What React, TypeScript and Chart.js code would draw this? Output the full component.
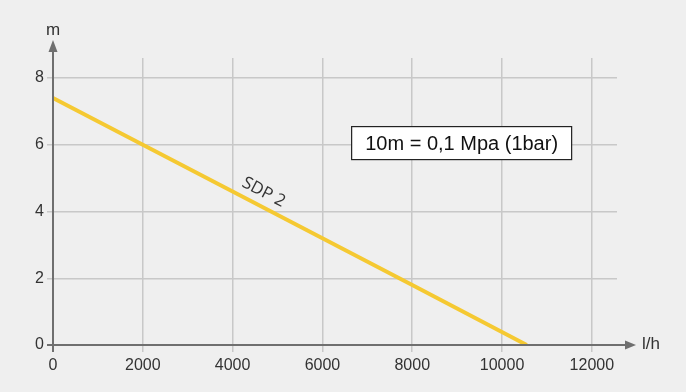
import React, { useEffect, useRef } from "react";
import { Chart, registerables } from "chart.js";

Chart.register(...registerables);

const xTicks = [0, 2000, 4000, 6000, 8000, 10000, 12000];
const yTicks = [0, 2, 4, 6, 8];
const flow = [0, 2000, 4000, 6000, 8000, 10550];
const head = [7.4, 6.0, 4.6, 3.2, 1.8, 0];
const seriesName = "SDP 2";
const noteText = "10m = 0,1 Mpa (1bar)";
const xTitle = "l/h";
const yTitle = "m";

const W = 686;
const H = 392;
const FONT = "'Liberation Sans', Arial, sans-serif";
const LFONT = "'Open Sans', 'Noto Sans', sans-serif";
const AXIS = "#6f6f6f";
const GRID = "#c8c8c8";
const TEXT = "#333333";

const overlay = {
  id: "overlay",
  beforeDraw(chart: any) {
    const { ctx } = chart;
    ctx.save();
    ctx.fillStyle = "#efefef";
    ctx.fillRect(0, 0, chart.width, chart.height);
    ctx.restore();
  },
  afterDraw(chart: any) {
    const { ctx, chartArea } = chart;
    const xs = chart.scales.x;
    const ys = chart.scales.y;
    const x0 = xs.getPixelForValue(0);
    const y0 = ys.getPixelForValue(0);
    ctx.save();
    // axes
    ctx.strokeStyle = AXIS;
    ctx.fillStyle = AXIS;
    ctx.lineWidth = 2;
    ctx.beginPath();
    ctx.moveTo(x0 - 6, y0);
    ctx.lineTo(chartArea.right + 10, y0);
    ctx.moveTo(x0, y0 + 7);
    ctx.lineTo(x0, chartArea.top - 6);
    ctx.stroke();
    // arrows
    const ax = chartArea.right + 8;
    ctx.beginPath();
    ctx.moveTo(ax, y0 - 4.5);
    ctx.lineTo(ax + 11, y0);
    ctx.lineTo(ax, y0 + 4.5);
    ctx.closePath();
    ctx.fill();
    const ay = chartArea.top - 6;
    ctx.beginPath();
    ctx.moveTo(x0 - 4.5, ay);
    ctx.lineTo(x0, ay - 12);
    ctx.lineTo(x0 + 4.5, ay);
    ctx.closePath();
    ctx.fill();
    // axis titles
    ctx.fillStyle = TEXT;
    ctx.font = `17px ${FONT}`;
    ctx.textBaseline = "middle";
    ctx.textAlign = "left";
    ctx.fillText(xTitle, ax + 17, y0 - 1);
    ctx.textAlign = "center";
    ctx.fillText(yTitle, x0, ay - 22);

    // series label along line
    const lx = 4550;
    const slope = (head[head.length - 1] - head[0]) / (flow[flow.length - 1] - flow[0]);
    const ly = head[0] + slope * lx;
    const px = xs.getPixelForValue(lx);
    const py = ys.getPixelForValue(ly);
    const p2x = xs.getPixelForValue(lx + 1000);
    const p2y = ys.getPixelForValue(ly + slope * 1000);
    const ang = Math.atan2(p2y - py, p2x - px);
    ctx.translate(px, py);
    ctx.rotate(ang);
    ctx.font = `17px ${LFONT}`;
    ctx.fillStyle = TEXT;
    ctx.textAlign = "center";
    ctx.textBaseline = "alphabetic";
    ctx.fillText(seriesName, 0, -9);
    ctx.setTransform(1, 0, 0, 1, 0, 0);

    // note box
    const bx = xs.getPixelForValue(9100);
    const by = ys.getPixelForValue(6.05);
    ctx.font = `20px ${FONT}`;
    const bw = 220;
    const bh = 33;
    ctx.fillStyle = "#ffffff";
    ctx.fillRect(bx - bw / 2, by - bh / 2, bw, bh);
    ctx.strokeStyle = "#222222";
    ctx.lineWidth = 1.2;
    ctx.strokeRect(bx - bw / 2, by - bh / 2, bw, bh);
    ctx.fillStyle = "#111111";
    ctx.textAlign = "center";
    ctx.textBaseline = "middle";
    ctx.fillText(noteText, bx, by + 1);
    ctx.restore();
  },
};

export default function App() {
  const ref = useRef<HTMLCanvasElement>(null);
  useEffect(() => {
    if (!ref.current) return;
    const chart = new Chart(ref.current, {
      type: "line",
      data: {
        datasets: [
          {
            label: seriesName,
            data: flow.map((x, i) => ({ x, y: head[i] })),
            borderColor: "#f5c932",
            borderWidth: 4,
            pointRadius: 0,
            tension: 0,
            fill: false,
          },
        ],
      },
      options: {
        responsive: false,
        animation: false,
        devicePixelRatio: 1,
        layout: { padding: { top: 58, right: 69, left: 0, bottom: 0 } },
        plugins: { legend: { display: false }, tooltip: { enabled: false } },
        scales: {
          x: {
            type: "linear",
            min: 0,
            max: 12560,
            afterFit: (s: any) => {
              s.height = H - 345;
            },
            afterBuildTicks: (s: any) => {
              s.ticks = xTicks.map((v) => ({ value: v }));
            },
            grid: { color: GRID, lineWidth: 1.5, tickLength: 7, tickColor: GRID },
            border: { display: false },
            ticks: {
              color: TEXT,
              font: { family: FONT, size: 16 },
              padding: 4,
              maxRotation: 0,
              autoSkip: false,
              callback: (v: any) => String(v),
            },
          },
          y: {
            type: "linear",
            min: 0,
            max: 8.6,
            afterFit: (s: any) => {
              s.width = 53;
            },
            afterBuildTicks: (s: any) => {
              s.ticks = yTicks.map((v) => ({ value: v }));
            },
            grid: { color: GRID, lineWidth: 1.5, tickLength: 6, tickColor: GRID },
            border: { display: false },
            ticks: {
              color: TEXT,
              font: { family: FONT, size: 16 },
              padding: 3,
              autoSkip: false,
              callback: (v: any) => String(v),
            },
          },
        },
      },
      plugins: [overlay],
    });
    return () => chart.destroy();
  }, []);
  return (
    <div style={{ position: "fixed", left: 0, top: 0, width: W, height: H, background: "#efefef" }}>
      <canvas ref={ref} width={W} height={H} style={{ display: "block" }} />
    </div>
  );
}
